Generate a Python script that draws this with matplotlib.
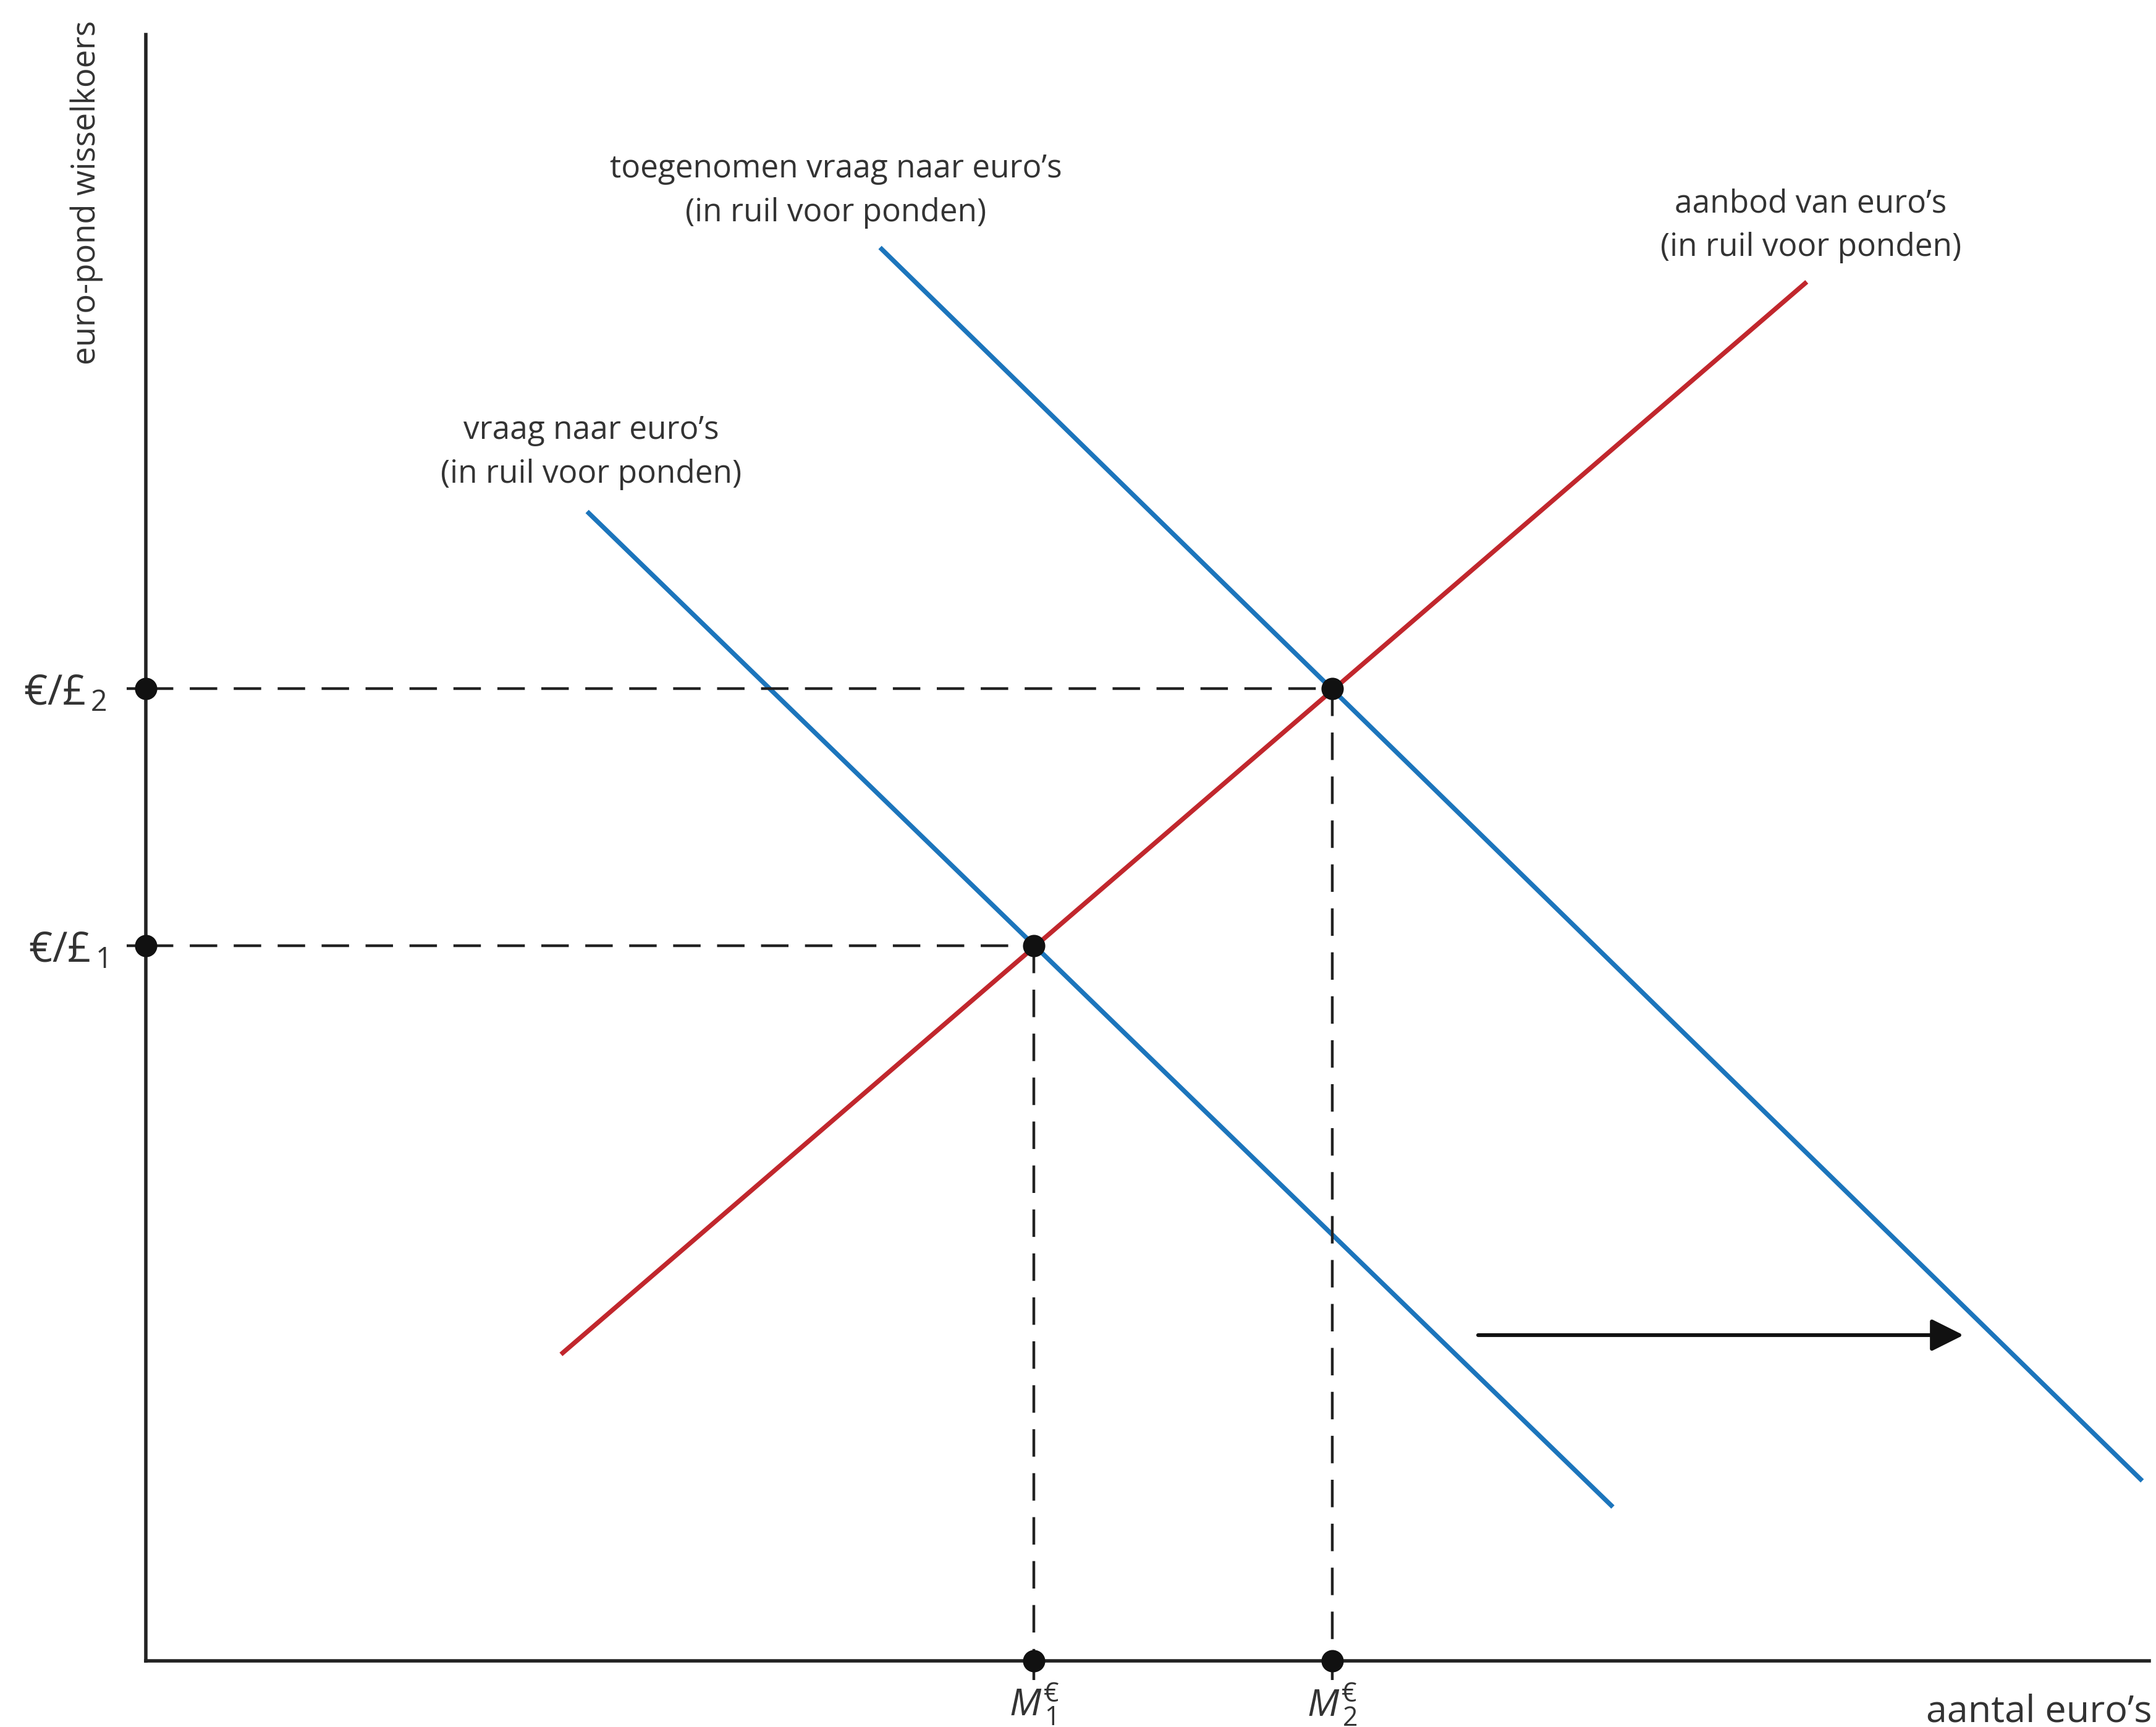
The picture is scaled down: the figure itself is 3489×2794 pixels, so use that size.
import matplotlib
matplotlib.use("Agg")
import matplotlib.pyplot as plt

lettertype = 'Open Sans'
plt.rcParams['font.family'] = [lettertype, 'DejaVu Sans']
plt.rcParams['mathtext.fontset'] = 'custom'
plt.rcParams['mathtext.rm'] = lettertype
plt.rcParams['mathtext.it'] = lettertype + ':italic'

# lijnen (begin- en eindpunt)
aanbod_x = [302, 1208]
aanbod_y = [223, 1003]
vraag_x = [321, 1067]
vraag_y = [836, 112]
vraag2_x = [534, 1452]
vraag2_y = [1028, 131]

# evenwichten
ev_x = [646, 863]
ev_y = [520, 707]
y_labels = [r'€/£$_{\,1}$', r'€/£$_{\,2}$']
x_labels = [r'$M^{\mathrm{€}}_{\,1}$', r'$M^{\mathrm{€}}_{\,2}$']

# verschuiving
pijl_x = [969, 1322]
pijl_y = 237

blauw = '#1c75bc'
rood = '#c1272d'
zwart = '#222222'

fig = plt.figure(figsize=(3489 / 200, 2794 / 200), dpi=200)
ax = fig.add_axes([0, 0, 1, 1])
ax.set_xlim(-106, 1462)
ax.set_ylim(-48, 1208)

for s in ['top', 'right']:
    ax.spines[s].set_visible(False)
ax.spines['left'].set_position(('data', 0))
ax.spines['bottom'].set_position(('data', 0))
ax.spines['left'].set_bounds(0, 1183)
ax.spines['bottom'].set_bounds(0, 1457)
for s in ['left', 'bottom']:
    ax.spines[s].set_linewidth(2.0)
    ax.spines[s].set_color(zwart)

ax.plot(aanbod_x, aanbod_y, color=rood, lw=2.7, solid_capstyle='butt')
ax.plot(vraag_x, vraag_y, color=blauw, lw=2.7, solid_capstyle='butt')
ax.plot(vraag2_x, vraag2_y, color=blauw, lw=2.7, solid_capstyle='butt')

# stippellijnen naar de assen
for x, y in zip(ev_x, ev_y):
    ax.plot([0, x], [y, y], color=zwart, lw=1.6, dashes=(10, 6))
    ax.plot([x, x], [y, 0], color=zwart, lw=1.6, dashes=(10, 6))

ax.plot(ev_x, ev_y, 'o', color='#111111', ms=12, zorder=5)
ax.plot([0] * len(ev_y), ev_y, 'o', color='#111111', ms=12, zorder=5, clip_on=False)
ax.plot(ev_x, [0] * len(ev_x), 'o', color='#111111', ms=12, zorder=5, clip_on=False)

ax.set_xticks(ev_x, labels=x_labels)
ax.set_yticks(ev_y, labels=y_labels)
ax.tick_params(direction='out', length=11, width=1.6, color=zwart,
               labelcolor='#333333')
ax.tick_params(axis='y', pad=12, labelsize=24)
ax.tick_params(axis='x', pad=1, labelsize=22)

ax.annotate('', xy=(pijl_x[1], pijl_y), xytext=(pijl_x[0], pijl_y),
            arrowprops=dict(arrowstyle='-|>', color='#111111', lw=2.2,
                            mutation_scale=40, shrinkA=0, shrinkB=0))

tekst = dict(fontsize=18.5, color='#333333', ha='center', va='center', linespacing=1.5)
ax.text(502, 1069, "toegenomen vraag naar euro’s\n(in ruil voor ponden)", **tekst)
ax.text(1211, 1044, "aanbod van euro’s\n(in ruil voor ponden)", **tekst)
ax.text(324, 879, "vraag naar euro’s\n(in ruil voor ponden)", **tekst)

ax.text(-43, 1193, "euro-pond wisselkoers", rotation=90, ha='center', va='top',
        fontsize=19, color='#333333')
ax.text(1459, -44, "aantal euro’s", ha='right', va='baseline',
        fontsize=22, color='#333333')

fig.savefig('out.png', dpi=200, facecolor='white')
